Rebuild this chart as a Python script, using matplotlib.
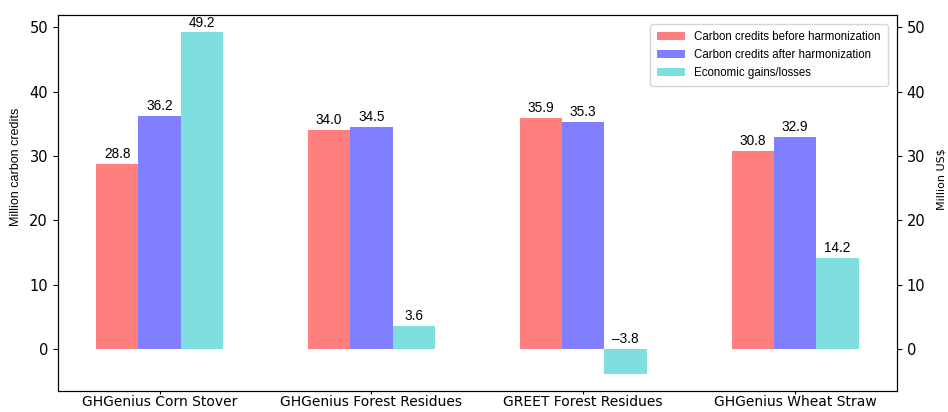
import numpy as np
import matplotlib
matplotlib.use("Agg")
import matplotlib.pyplot as plt

categories = ["GHGenius Corn Stover", "GHGenius Forest Residues",
              "GREET Forest Residues", "GHGenius Wheat Straw"]
before = [28.8, 34.0, 35.9, 30.8]
after = [36.2, 34.5, 35.3, 32.9]
gains = [49.2, 3.6, -3.8, 14.2]

series_names = ["Carbon credits before harmonization",
                "Carbon credits after harmonization",
                "Economic gains/losses"]
colors = ["#FF7F7F", "#7F7FFF", "#7FDFDF"]

fig, ax = plt.subplots(figsize=(9.48, 4.12), dpi=100)
x = np.arange(len(categories))
w = 0.2

for i, vals in enumerate([before, after, gains]):
    xs = x + (i - 1) * w
    ax.bar(xs, vals, w, color=colors[i], label=series_names[i])
    # labels sit above the bar top, or above the zero line for negatives
    for xi, v in zip(xs, vals):
        ax.annotate(("%.1f" % v).replace("-", "\u2013"), (xi, max(v, 0)),
                    xytext=(0, 2), textcoords="offset points",
                    ha="center", va="bottom",
                    family="Liberation Sans", fontsize=9.8)

ax.set_xticks(x)
ax.set_xticklabels(categories, fontsize=10)
ax.tick_params(axis="x", length=2, pad=1.5)
ax.tick_params(axis="y", labelsize=10.5)
ax.set_ylabel("Million carbon credits", family="Liberation Sans", fontsize=9)
ax.yaxis.set_label_coords(-0.043, 0.595)

ax2 = ax.twinx()
ax2.set_ylim(ax.get_ylim())
ax2.tick_params(axis="y", labelsize=10.5)
ax2.set_ylabel("Million US$", fontsize=8)
ax2.yaxis.set_label_coords(1.047, 0.563)

ax.legend(prop={"family": "Liberation Sans", "size": 8.3}, loc="upper right",
          handlelength=2.4, borderpad=0.6, borderaxespad=0.8)

fig.subplots_adjust(left=0.061, right=0.946, top=0.963, bottom=0.052)
fig.savefig("out.png", dpi=100)
